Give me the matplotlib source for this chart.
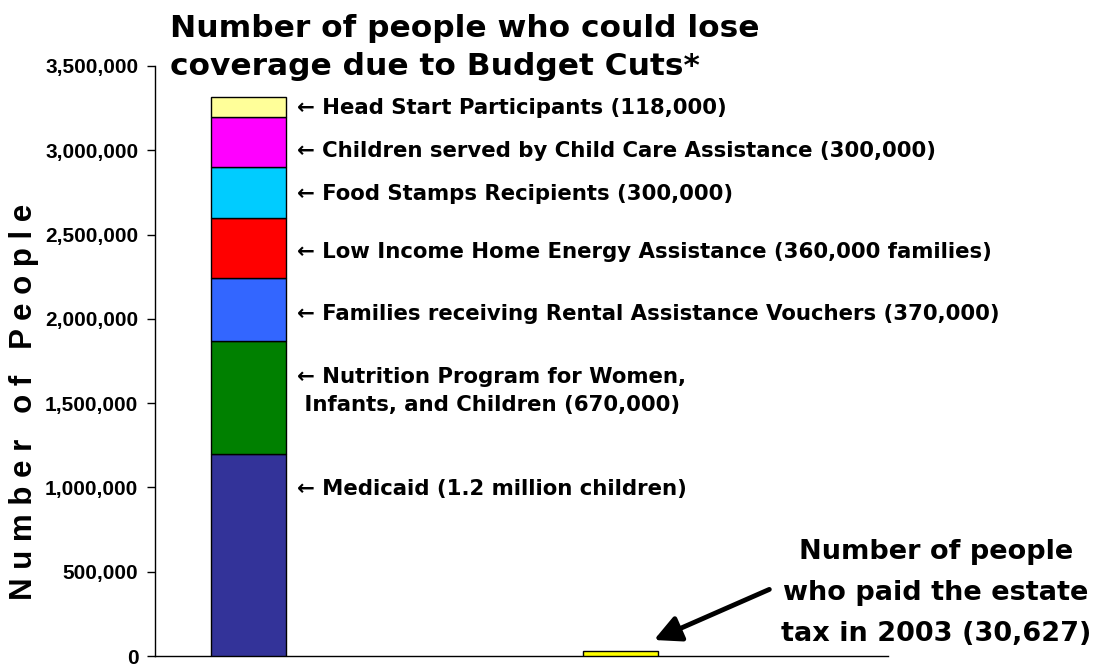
import matplotlib
matplotlib.use("Agg")
import matplotlib.pyplot as plt

BASE = ["Liberation Sans", "DejaVu Sans"]
WIDE = ["DejaVu Sans"]

# ---- data ----
programs = [
    "Medicaid (1.2 million children)",
    "Nutrition Program for Women,\nInfants, and Children (670,000)",
    "Families receiving Rental Assistance Vouchers (370,000)",
    "Low Income Home Energy Assistance (360,000 families)",
    "Food Stamps Recipients (300,000)",
    "Children served by Child Care Assistance (300,000)",
    "Head Start Participants (118,000)",
]
program_values = [1200000, 670000, 370000, 360000, 300000, 300000, 118000]
estate_tax_payers = 30627
y_ticks = [0, 500000, 1000000, 1500000, 2000000, 2500000, 3000000, 3500000]
y_tick_labels = ["0", "500,000", "1,000,000", "1,500,000", "2,000,000",
                 "2,500,000", "3,000,000", "3,500,000"]
title_lines = ["Number of people who could lose", "coverage due to Budget Cuts*"]
estate_text = "Number of people\nwho paid the estate\ntax in 2003 (30,627)"

seg_colors = ["#333399", "#008000", "#3366FF", "#FF0000", "#00CCFF", "#FF00FF", "#FFFF99"]
label_y = [0.991e6, 1.572e6, 2.029e6, 2.396e6, 2.741e6, 2.996e6, 3.251e6]

fig = plt.figure(figsize=(11.01, 6.66), dpi=100)
ax = fig.add_axes([155/1101, 10/666, 733/1101, 590/666])

bottom = 0
for v, c in zip(program_values, seg_colors):
    ax.bar(0, v, bottom=bottom, width=0.2, color=c, edgecolor="black", linewidth=1, zorder=3)
    bottom += v
ax.bar(1, estate_tax_payers, width=0.2, color="#FFFF00", edgecolor="black", linewidth=1, zorder=3)

ax.set_xlim(-0.251, 1.719)
ax.set_ylim(0, 3500000)
ax.set_yticks(y_ticks)
ax.set_yticklabels(y_tick_labels, family=BASE, weight="bold", size=15)
ax.set_xticks([])
ax.tick_params(axis="y", length=6, width=1, pad=6)
for s in ["top", "right"]:
    ax.spines[s].set_visible(False)
ax.spines["left"].set_linewidth(1)
ax.spines["bottom"].set_linewidth(1)

ax.set_ylabel("N u m b e r   o f   P e o p l e", family=BASE, weight="bold", size=22.5)
ax.yaxis.set_label_coords(-0.158, (656 - 402) / 590)

for txt, y in zip(programs, label_y):
    if "\n" in txt:
        first, second = txt.split("\n")
        ax.text(0.130, y, "\u2190 " + first + "\n " + second, ha="left", va="center",
                family=WIDE, weight="bold", size=15.3, linespacing=1.55)
    else:
        ax.text(0.130, y, "\u2190 " + txt, ha="left", va="center",
                family=WIDE, weight="bold", size=15.3)

fig.text(170/1101, 1 - 37/666, title_lines[0], ha="left", va="baseline",
         family=WIDE, weight="bold", size=22.5)
fig.text(170/1101, 1 - 75/666, title_lines[1], ha="left", va="baseline",
         family=WIDE, weight="bold", size=22.5)

fig.text(936/1101, 1 - 593/666, estate_text, ha="center", va="center",
         family=WIDE, weight="bold", size=19.5, linespacing=1.75)
ax.annotate("", xy=(1.09, 95000), xytext=(1.40, 395000),
            arrowprops=dict(arrowstyle="-|>,head_length=0.8,head_width=0.4", lw=3.5,
                            color="black", mutation_scale=20, shrinkA=0, shrinkB=0))

fig.savefig("out.png", dpi=100)
